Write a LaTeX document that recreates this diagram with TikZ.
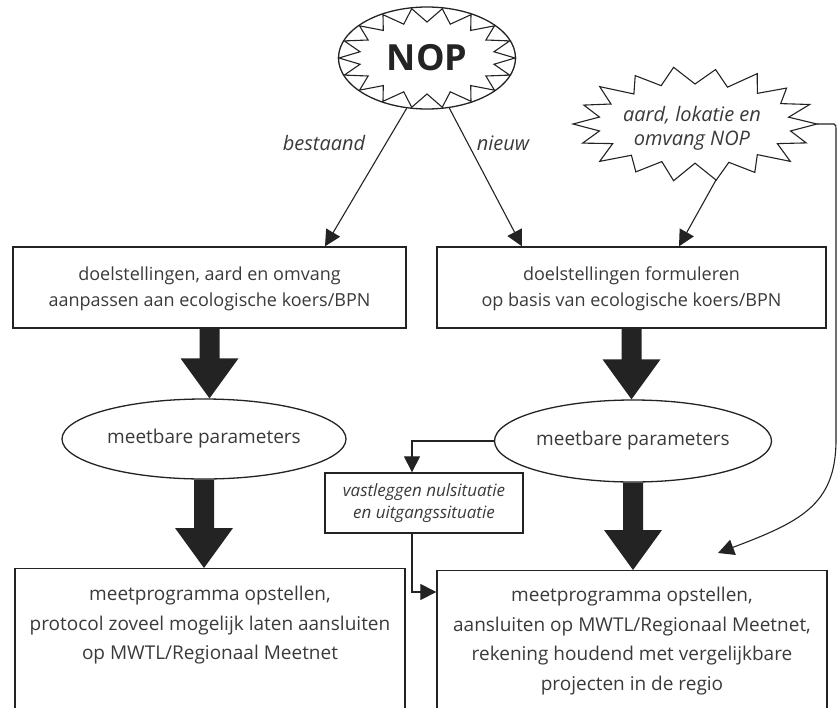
\documentclass[tikz,border=0pt]{standalone}
\usepackage{fontspec}
\setmainfont{Open Sans}
\usetikzlibrary{shapes.geometric,arrows.meta,calc}
\definecolor{ink}{HTML}{232323}
\definecolor{txt}{HTML}{3A3A3A}
\begin{document}
\begin{tikzpicture}[x=1pt,y=-1pt,
  line/.style={draw=ink,line width=1.3pt},
  thin/.style={draw=ink,line width=1.1pt,-{Triangle[length=16pt,width=16pt]}},
  stepbox/.style={line,rectangle,inner sep=0pt},
  boxtext/.style={text=txt,align=center,font=\fontsize{18}{25.5}\selectfont},
  lowtext/.style={text=txt,align=center,font=\fontsize{19}{29.5}\selectfont},
  oval/.style={line,ellipse,inner sep=0pt,text=txt,font=\fontsize{19}{22}\selectfont},
  tag/.style={text=txt,font=\fontsize{20}{24}\selectfont\itshape},
  bigarrow/.style={fill=ink}]
\useasboundingbox (0,0) rectangle (838,707);
\clip (0,0) rectangle (838,707);

% NOP: zigzag star inside an ellipse
\node[line,ellipse,minimum width=177pt,minimum height=102pt,inner sep=0pt] (nop) at (427,58) {};
\draw[line,line width=1.1pt] (427+88,58)
  \foreach \k in {0,...,17} {
    -- ({427+88*cos(20*\k)},{58+50*sin(20*\k)})
    -- ({427+68*cos(20*\k+10)},{58+36*sin(20*\k+10)}) } -- cycle;
\node[text=ink,font=\fontsize{36}{40}\selectfont\bfseries] (noplabel) at (427,58) {NOP};

% starburst with the site description
\draw[line,fill=white,line width=1.1pt] (817,124)
  \foreach \a/\kout/\kin in {0/1.00/1.00, 20/0.97/0.98, 40/1.02/1.00, 60/0.98/1.02, 80/1.00/0.98,
                          100/1.01/1.00, 120/0.97/1.02, 140/1.02/0.98, 160/0.98/1.00, 180/1.00/1.00,
                          200/0.97/1.00, 220/1.02/0.98, 240/0.98/1.02, 260/1.01/1.00, 280/0.97/0.98,
                          300/1.02/1.00, 320/0.98/1.02, 340/1.00/0.98} {
    -- ({695+122*\kout*cos(\a)},{124+57*\kout*sin(\a)})
    -- ({695+97*\kin*cos(\a+10)},{124+40*\kin*sin(\a+10)}) } -- cycle;
\node[tag,align=center,font=\fontsize{20}{24}\selectfont\itshape] (site) at (692,128) {aard, lokatie en\\omvang NOP};

% first row of boxes
\node[stepbox,minimum width=393pt,minimum height=81pt] (lb1) at (209.5,287.5) {};
\node[boxtext] (lt1) at (209.5,289) {doelstellingen, aard en omvang\\aanpassen aan ecologische koers/BPN};
\node[stepbox,minimum width=389pt,minimum height=81pt] (rb1) at (631.5,287.5) {};
\node[boxtext] (rt1) at (631.5,289) {doelstellingen formuleren\\op basis van ecologische koers/BPN};

% measurable parameters
\node[oval,minimum width=284pt,minimum height=80pt] (lp) at (204,439) {meetbare parameters};
\node[oval,minimum width=277pt,minimum height=82pt] (rp) at (633,441) {meetbare parameters};

% baseline box
\node[stepbox,minimum width=198pt,minimum height=60pt] (vl) at (424,503) {};
\node[tag,align=center,font=\fontsize{17}{21.5}\selectfont\itshape] (vlt) at (vl) {vastleggen nulsituatie\\en uitgangssituatie};

% lower boxes, running on below the edge
\node[stepbox,minimum width=390pt,minimum height=170pt,anchor=north] (lb2) at (210,568) {};
\node[lowtext,anchor=north] (lt2) at (210,583) {meetprogramma opstellen,\\protocol zoveel mogelijk laten aansluiten\\op MWTL/Regionaal Meetnet};
\node[stepbox,minimum width=390pt,minimum height=170pt,anchor=north] (rb2) at (632,570) {};
\node[lowtext,anchor=north] (rt2) at (632,584) {meetprogramma opstellen,\\aansluiten op MWTL/Regionaal Meetnet,\\rekening houdend met vergelijkbare\\projecten in de regio};

% branch labels
\node[tag] (lbl1) at (324,143) {bestaand};
\node[tag] (lbl2) at (503,143) {nieuw};

% thin connectors
\coordinate (ta) at (325,0);
\coordinate (tb) at (522,0);
\coordinate (tc) at (679,0);
\coordinate (bx) at (412,0);
\coordinate (by) at (0,592);
\coordinate (sb) at (716,180);
\coordinate (se) at (817,124);
\coordinate (te) at (718,553);
\draw[thin] (nop.-112) -- (lb1.north -| ta);
\draw[thin] (nop.-66) -- (rb1.north -| tb);
\draw[thin] (sb) -- (rb1.north -| tc);
\draw[thin] (rp.west) -| (vl.north -| bx);
\draw[thin] (vl.south -| bx) |- (rb2.west |- by);
\draw[thin] (se) -- (834,124) .. controls (836,124) and (836,126) .. (836,132)
  -- (836,440) .. controls (836,505) and (800,522) .. (te);

% heavy arrows
\foreach \s/\t in {lb1/lp,rb1/rp,lp/lb2,rp/rb2} {
  \path (\s.south) coordinate (p0) (\t.north -| p0) coordinate (p1);
  \fill[bigarrow] ($(p0)+(-10,0)$) -- ($(p1)+(-10,-40)$) -- ($(p1)+(-29,-40)$) -- (p1)
    -- ($(p1)+(29,-40)$) -- ($(p1)+(10,-40)$) -- ($(p0)+(10,0)$) -- cycle;
}
\end{tikzpicture}
\end{document}
